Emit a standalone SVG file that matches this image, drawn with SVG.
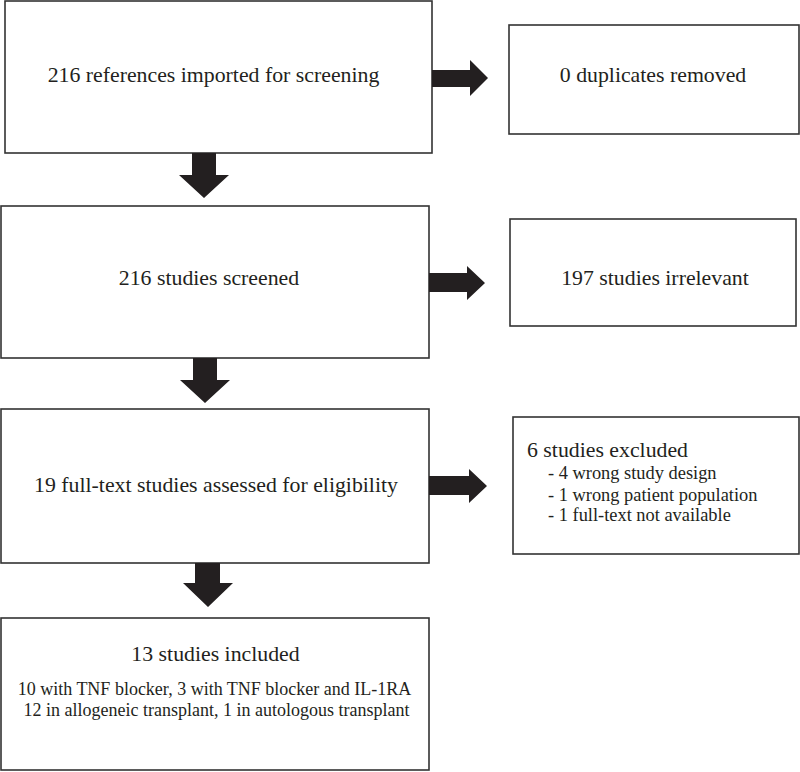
<svg xmlns="http://www.w3.org/2000/svg" width="800" height="772" viewBox="0 0 800 772">
<style>
.box{fill:#fff;stroke:#333;stroke-width:1.6}
text{font-family:"Liberation Serif","Times New Roman",serif;fill:#231f20}
.m{font-size:21.8px;text-anchor:middle}
.h{font-size:21.8px}
.s{font-size:18.4px}
.sc{font-size:18px;text-anchor:middle}
.arr{fill:#231f20}
</style>
<rect width="800" height="772" fill="#fff"/>
<g id="n1"><rect class="box" x="5" y="1" width="427" height="152"/><text class="m" x="213.5" y="82">216 references imported for screening</text></g>
<g id="n2"><rect class="box" x="509" y="25" width="290" height="109"/><text class="m" x="653" y="82">0 duplicates removed</text></g>
<g id="n3"><rect class="box" x="1" y="206" width="428" height="152"/><text class="m" x="209" y="285">216 studies screened</text></g>
<g id="n4"><rect class="box" x="510" y="219" width="286" height="107"/><text class="m" x="655" y="285">197 studies irrelevant</text></g>
<g id="n5"><rect class="box" x="1" y="409" width="428" height="154"/><text class="m" x="216" y="492">19 full-text studies assessed for eligibility</text></g>
<g id="n6"><rect class="box" x="513" y="417" width="286" height="137"/>
<text class="h" x="527" y="457">6 studies excluded</text>
<text class="s" x="548" y="479">- 4 wrong study design</text>
<text class="s" x="548" y="501">- 1 wrong patient population</text>
<text class="s" x="548" y="521">- 1 full-text not available</text></g>
<g id="n7"><rect class="box" x="1" y="618" width="428" height="152"/>
<text class="m" x="215.5" y="661">13 studies included</text>
<text class="sc" x="214.5" y="695">10 with TNF blocker, 3 with TNF blocker and IL-1RA</text>
<text class="sc" x="216.5" y="716">12 in allogeneic transplant, 1 in autologous transplant</text></g>
<g id="connectors">
<polygon class="arr" points="192,153 216,153 216,175 229,175 204,198 179,175 192,175"/>
<polygon class="arr" points="193,358 217,358 217,380 230,380 205,403 180,380 193,380"/>
<polygon class="arr" points="195,563 220,563 220,583 233,583 208,607 183,583 195,583"/>
<polygon class="arr" points="432,70 470,70 470,60 488,78 470,96 470,87 432,87"/>
<polygon class="arr" points="429,273 467,273 467,266 485,283 467,300 467,292 429,292"/>
<polygon class="arr" points="429,476 469,476 469,469 487,486 469,503 469,495 429,495"/>
</g>
</svg>
